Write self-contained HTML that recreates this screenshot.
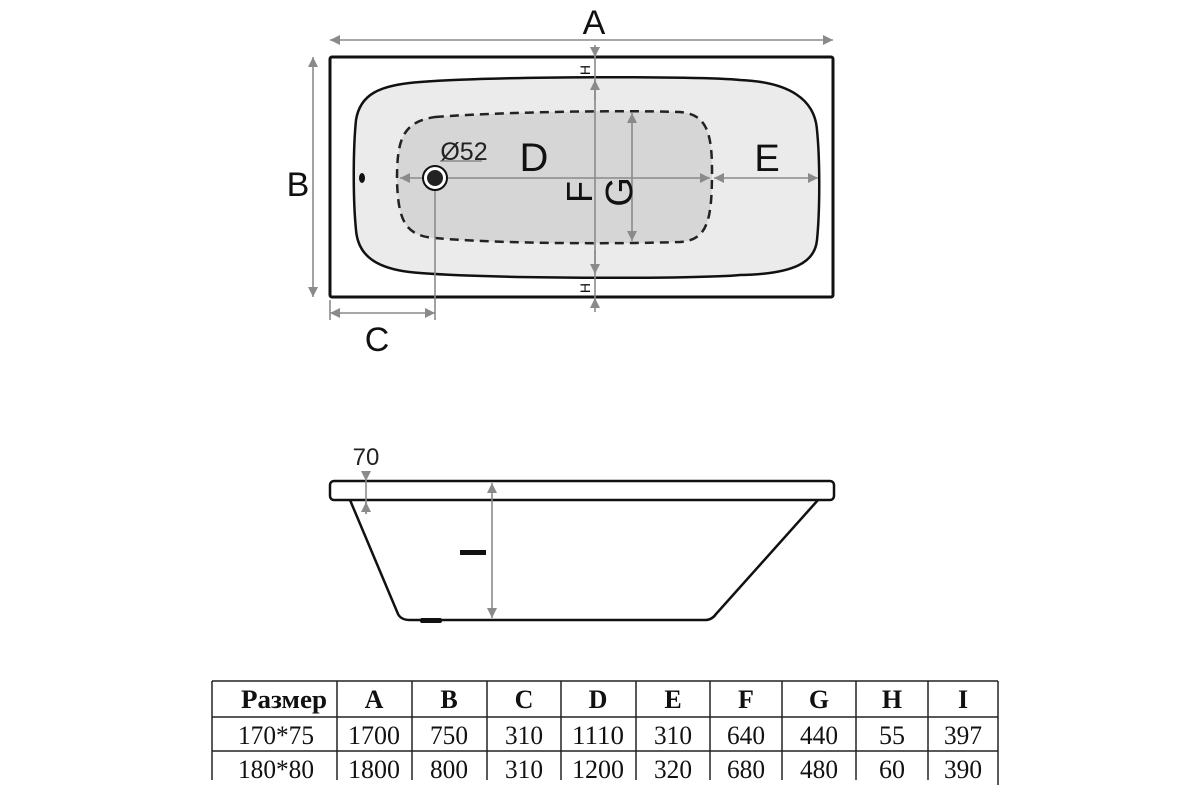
<!DOCTYPE html>
<html><head><meta charset="utf-8"><style>
html,body{margin:0;padding:0;background:#fff}
svg{display:block}
</style></head><body>
<svg width="1200" height="800" viewBox="0 0 1200 800" xmlns="http://www.w3.org/2000/svg">
<defs>
<marker id="ar" viewBox="0 0 10 10" refX="10" refY="5" markerWidth="10" markerHeight="10" markerUnits="userSpaceOnUse" orient="auto-start-reverse">
<path d="M0,0 L10,5 L0,10 z" fill="#8a8a8a"/></marker>
</defs>
<g font-family="Liberation Sans, sans-serif">
<rect x="330" y="57" width="503" height="240" rx="2" fill="#fff" stroke="#111" stroke-width="3"/>
<path d="M420,82 C500,76 700,76 740,80 C790,82 815,100 817,130 C820,160 820,210 817,240 C815,262 795,274 740,275 C700,279 500,279 420,273 C375,270 358,255 356,230 C353,200 353,150 356,120 C360,95 378,85 420,82 Z" fill="#ebebeb" stroke="#111" stroke-width="2.5"/>
<path d="M435,117 C500,112 620,110 680,112 C705,114 712,130 712,170 C712,220 708,240 680,242 C620,244 500,244 435,238 C405,236 398,220 397,180 C397,140 402,122 435,117 Z" fill="#d6d6d6" stroke="#222" stroke-width="2.5" stroke-dasharray="9,6"/>
<ellipse cx="362" cy="178" rx="3" ry="5" fill="#111"/>
<g stroke="#8a8a8a" stroke-width="1.6" fill="none">
<line x1="330" y1="40" x2="833" y2="40" marker-start="url(#ar)" marker-end="url(#ar)"/>
<line x1="313" y1="57" x2="313" y2="297" marker-start="url(#ar)" marker-end="url(#ar)"/>
<line x1="400" y1="178" x2="710" y2="178" marker-start="url(#ar)" marker-end="url(#ar)"/>
<line x1="714" y1="178" x2="818" y2="178" marker-start="url(#ar)" marker-end="url(#ar)"/>
<line x1="595" y1="45" x2="595" y2="312"/>
<line x1="595" y1="48" x2="595" y2="57" marker-end="url(#ar)"/>
<line x1="595" y1="100" x2="595" y2="80" marker-end="url(#ar)"/>
<line x1="595" y1="250" x2="595" y2="274" marker-end="url(#ar)"/>
<line x1="595" y1="308" x2="595" y2="298" marker-end="url(#ar)"/>
<line x1="632" y1="113" x2="632" y2="241" marker-start="url(#ar)" marker-end="url(#ar)"/>
<line x1="435" y1="178" x2="435" y2="320"/>
<line x1="330" y1="313" x2="435" y2="313" marker-start="url(#ar)" marker-end="url(#ar)"/>
<line x1="330" y1="300" x2="330" y2="320"/>
<line x1="440" y1="161" x2="482" y2="161"/>
</g>
<circle cx="435" cy="178" r="12" fill="#fff" stroke="#111" stroke-width="2"/>
<circle cx="435" cy="178" r="8" fill="#222"/>
<text x="594" y="34" font-size="34" text-anchor="middle" fill="#111">A</text>
<text x="298" y="196" font-size="34" text-anchor="middle" fill="#111">B</text>
<text x="377" y="351" font-size="34" text-anchor="middle" fill="#111">C</text>
<text x="534" y="171" font-size="40" text-anchor="middle" fill="#111">D</text>
<text x="767" y="171" font-size="38" text-anchor="middle" fill="#111">E</text>
<text x="464" y="160" font-size="25" text-anchor="middle" fill="#222">Ø52</text>
<text transform="translate(592,192) rotate(-90)" font-size="36" text-anchor="middle" fill="#111">F</text>
<text transform="translate(632,192) rotate(-90)" font-size="38" text-anchor="middle" fill="#111">G</text>
<text transform="translate(590,70) rotate(-90)" font-size="14" text-anchor="middle" fill="#111">H</text>
<text transform="translate(590,288) rotate(-90)" font-size="14" text-anchor="middle" fill="#111">H</text>
<path d="M350,500 L398,614 Q401,620 410,620 L705,620 Q712,620 716,614 L818,500" fill="#fff" stroke="#111" stroke-width="2.5"/>
<rect x="330" y="481" width="504" height="19" rx="4" fill="#fff" stroke="#111" stroke-width="2.5"/>
<rect x="420" y="618" width="22" height="5" rx="2" fill="#111"/>
<g stroke="#8a8a8a" stroke-width="1.6" fill="none">
<line x1="492" y1="483" x2="492" y2="618" marker-start="url(#ar)" marker-end="url(#ar)"/>
<line x1="366" y1="472" x2="366" y2="481" marker-end="url(#ar)"/>
<line x1="366" y1="481" x2="366" y2="514"/>
<line x1="366" y1="514" x2="366" y2="502" marker-end="url(#ar)"/>
</g>
<rect x="460" y="550" width="26" height="5" fill="#111"/>
<text x="366" y="465" font-size="24" text-anchor="middle" fill="#222">70</text>
</g>
<g stroke="#222" stroke-width="1.5" fill="none">
<line x1="212" y1="681" x2="998" y2="681"/>
<line x1="212" y1="717" x2="998" y2="717"/>
<line x1="212" y1="751" x2="998" y2="751"/>
<line x1="212" y1="681" x2="212" y2="780"/>
<line x1="337" y1="681" x2="337" y2="780"/>
<line x1="412" y1="681" x2="412" y2="780"/>
<line x1="487" y1="681" x2="487" y2="780"/>
<line x1="561" y1="681" x2="561" y2="780"/>
<line x1="636" y1="681" x2="636" y2="780"/>
<line x1="710" y1="681" x2="710" y2="780"/>
<line x1="782" y1="681" x2="782" y2="780"/>
<line x1="856" y1="681" x2="856" y2="780"/>
<line x1="928" y1="681" x2="928" y2="780"/>
<line x1="998" y1="681" x2="998" y2="785"/>
</g>
<g font-family="Liberation Serif, serif" font-size="26" fill="#111" text-anchor="middle">
<g font-weight="bold">
<text x="284" y="708" textLength="86" lengthAdjust="spacingAndGlyphs">Размер</text>
<text x="374" y="708">A</text><text x="449" y="708">B</text><text x="524" y="708">C</text>
<text x="598" y="708">D</text><text x="673" y="708">E</text><text x="746" y="708">F</text>
<text x="819" y="708">G</text><text x="892" y="708">H</text><text x="963" y="708">I</text>
</g>
<g lengthAdjust="spacingAndGlyphs">
<text x="276" y="744" textLength="76" lengthAdjust="spacingAndGlyphs">170*75</text>
<text x="374" y="744" textLength="52" lengthAdjust="spacingAndGlyphs">1700</text>
<text x="449" y="744" textLength="38" lengthAdjust="spacingAndGlyphs">750</text>
<text x="524" y="744" textLength="38" lengthAdjust="spacingAndGlyphs">310</text>
<text x="598" y="744" textLength="52" lengthAdjust="spacingAndGlyphs">1110</text>
<text x="673" y="744" textLength="38" lengthAdjust="spacingAndGlyphs">310</text>
<text x="746" y="744" textLength="38" lengthAdjust="spacingAndGlyphs">640</text>
<text x="819" y="744" textLength="38" lengthAdjust="spacingAndGlyphs">440</text>
<text x="892" y="744" textLength="26" lengthAdjust="spacingAndGlyphs">55</text>
<text x="963" y="744" textLength="38" lengthAdjust="spacingAndGlyphs">397</text>
<text x="276" y="778" textLength="76" lengthAdjust="spacingAndGlyphs">180*80</text>
<text x="374" y="778" textLength="52" lengthAdjust="spacingAndGlyphs">1800</text>
<text x="449" y="778" textLength="38" lengthAdjust="spacingAndGlyphs">800</text>
<text x="524" y="778" textLength="38" lengthAdjust="spacingAndGlyphs">310</text>
<text x="598" y="778" textLength="52" lengthAdjust="spacingAndGlyphs">1200</text>
<text x="673" y="778" textLength="38" lengthAdjust="spacingAndGlyphs">320</text>
<text x="746" y="778" textLength="38" lengthAdjust="spacingAndGlyphs">680</text>
<text x="819" y="778" textLength="38" lengthAdjust="spacingAndGlyphs">480</text>
<text x="892" y="778" textLength="26" lengthAdjust="spacingAndGlyphs">60</text>
<text x="963" y="778" textLength="38" lengthAdjust="spacingAndGlyphs">390</text>
</g>
</g>
</svg>
</body></html>
